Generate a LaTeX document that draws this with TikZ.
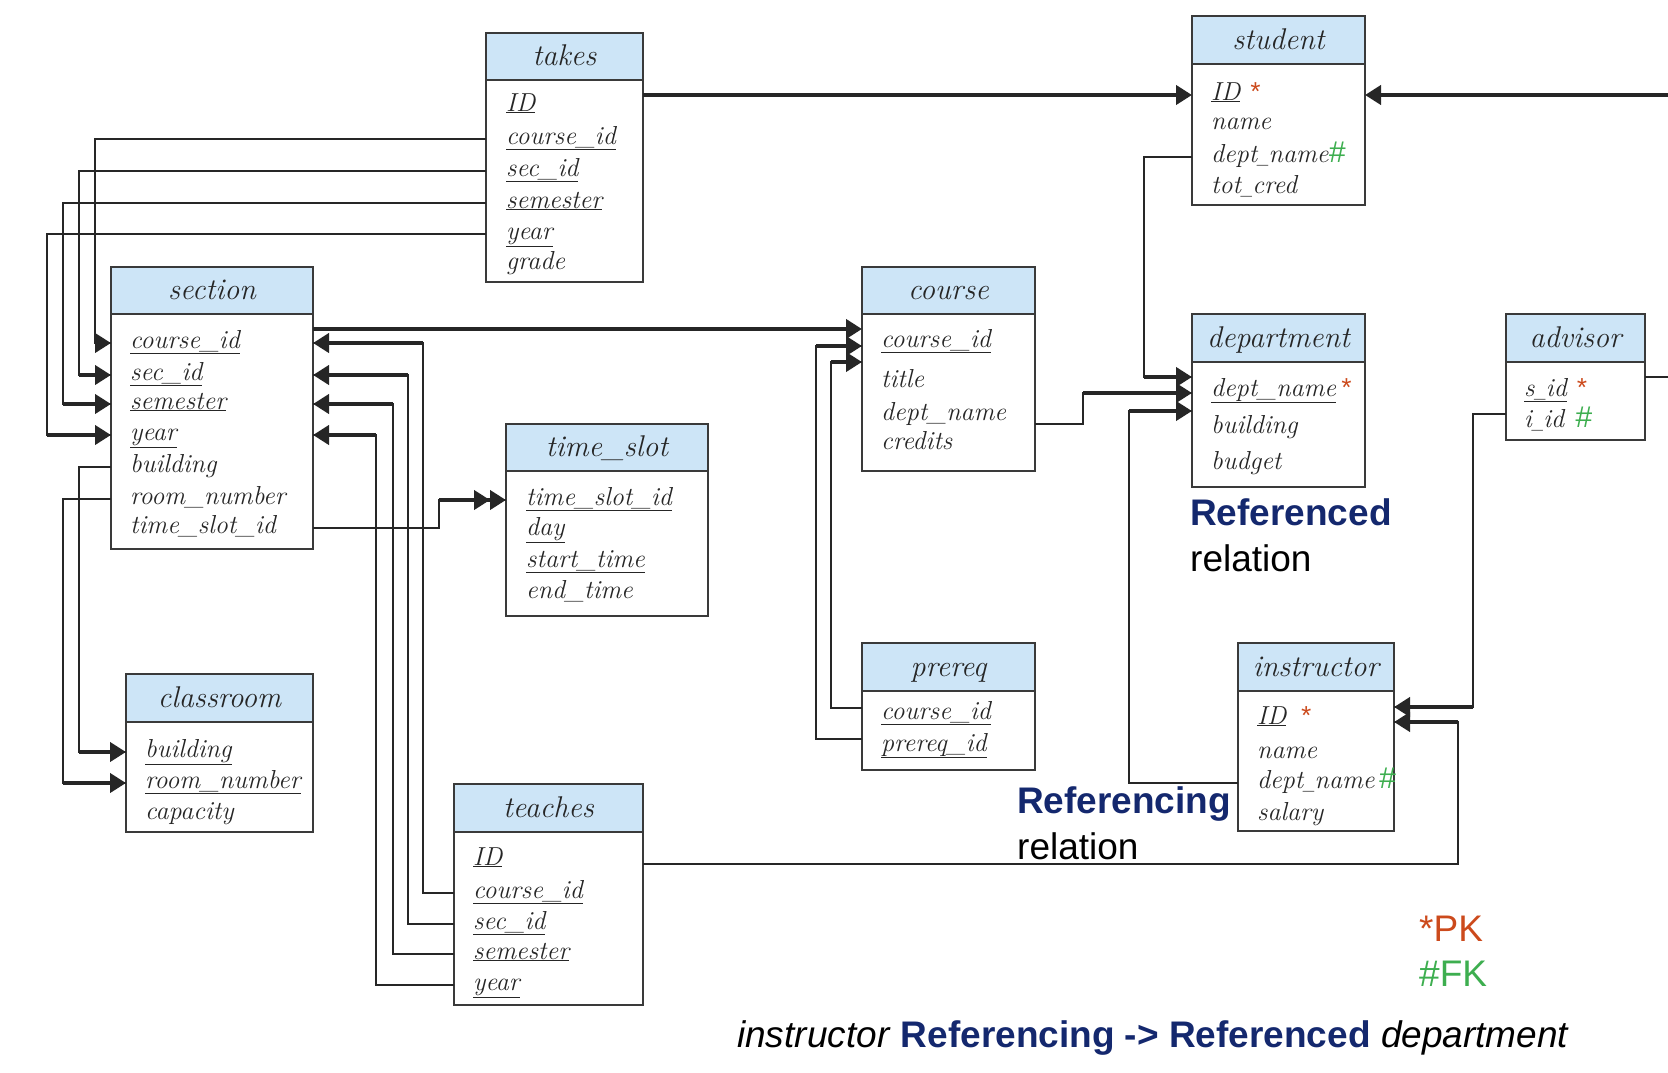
\documentclass[tikz,border=0pt]{standalone}
\usepackage{fontspec}
\newfontfamily\sansfont{Liberation Sans}
\usetikzlibrary{arrows.meta,calc}
\definecolor{headblue}{HTML}{CDE5F7}
\definecolor{navytext}{HTML}{14286E}
\definecolor{pkred}{HTML}{CC4A1C}
\definecolor{fkgreen}{HTML}{3DAE4F}
\definecolor{boxline}{HTML}{3A3A3A}
\newcommand{\pk}{{\sansfont\color{pkred}*}}
\newcommand{\fk}{{\sansfont\fontsize{30}{30}\selectfont\color{fkgreen}\#}}
\newcommand{\us}{\scalebox{0.6}[1]{\_}}

\tikzset{
  tbl/.style={draw=boxline, line width=2pt, fill=white, inner sep=0pt, outer sep=0pt, anchor=north west},
  hd/.style={draw=boxline, line width=2pt, fill=headblue, inner sep=0pt, outer sep=0pt, anchor=south west,
    text height=23pt, text depth=5pt, font=\fontsize{30}{30}\selectfont\itshape, text=black!85},
  row/.style={anchor=west, inner sep=0pt, text height=14pt, text depth=4pt,
    font=\fontsize{26}{30}\selectfont\itshape, text=black!85},
  link/.style={draw=black!85, line width=2pt},
  linkend/.style={draw=black!85, line width=4pt, -{Triangle[length=16pt,width=19pt]}},
  linkend2/.style={draw=black!85, line width=4pt,
    -{Triangle[length=16pt,width=19pt]Triangle[length=16pt,width=19pt]}},
  note/.style={anchor=base west, inner sep=0pt, font=\sansfont\fontsize{37}{40}\selectfont}
}

\begin{document}
\begin{tikzpicture}[x=1pt,y=-1pt]
			%%%%% START %%%%%
			\useasboundingbox (0,0) rectangle (1668,1073);
			
			% takes
			\node[tbl, minimum width=157, minimum height=202] (takes) at (486,80) {};
			\node[hd, minimum width=157, minimum height=47] (takes-h) at (takes.north west) {takes};
			\node[row] (tk1) at (506,106) {\underline{ID}};
			\node[row] (tk2) at (506,139) {\underline{course\_id}};
			\node[row] (tk3) at (506,171) {\underline{sec\_id}};
			\node[row] (tk4) at (506,203) {\underline{semester}};
			\node[row] (tk5) at (506,234) {\underline{year}};
			\node[row] (tk6) at (506,264) {grade};
			
			% student
			\node[tbl, minimum width=173, minimum height=141] (student) at (1192,64) {};
			\node[hd, minimum width=173, minimum height=48] (student-h) at (student.north west) {student};
			\node[row] (st1) at (1211,95) {\underline{ID} \pk};
			\node[row] (st2) at (1211,124) {name};
			\node[row] (st3) at (1211,157) {dept\us name\fk};
			\node[row] (st4) at (1211,188) {tot\us cred};
			
			% section
			\node[tbl, minimum width=202, minimum height=235] (section) at (111,314) {};
			\node[hd, minimum width=202, minimum height=47] (section-h) at (section.north west) {section};
			\node[row] (sc1) at (130,343) {\underline{course\_id}};
			\node[row] (sc2) at (130,375) {\underline{sec\_id}};
			\node[row] (sc3) at (130,404) {\underline{semester}};
			\node[row] (sc4) at (130,435) {\underline{year}};
			\node[row] (sc5) at (130,467) {building};
			\node[row] (sc6) at (130,499) {room\_number};
			\node[row] (sc7) at (130,528) {time\_slot\_id};
			
			% course
			\node[tbl, minimum width=173, minimum height=157] (course) at (862,314) {};
			\node[hd, minimum width=173, minimum height=47] (course-h) at (course.north west) {course};
			\node[row] (co1) at (881,342) {\underline{course\_id}};
			\node[row] (co2) at (881,382) {title};
			\node[row] (co3) at (881,415) {dept\_name};
			\node[row] (co4) at (881,444) {credits};
			
			% department
			\node[tbl, minimum width=173, minimum height=125] (department) at (1192,362) {};
			\node[hd, minimum width=173, minimum height=48] (department-h) at (department.north west) {department};
			\node[row] (dp1) at (1211,391) {\underline{dept\_name}\,\pk};
			\node[row] (dp2) at (1211,428) {building};
			\node[row] (dp3) at (1211,464) {budget};
			
			% advisor
			\node[tbl, minimum width=139, minimum height=78] (advisor) at (1506,362) {};
			\node[hd, minimum width=139, minimum height=48] (advisor-h) at (advisor.north west) {advisor};
			\node[row] (ad1) at (1524,391) {\underline{s\us id}\hspace{9pt}\pk};
			\node[row] (ad2) at (1524,422) {i\us id\hspace{11pt}\fk};
			
			% time_slot
			\node[tbl, minimum width=202, minimum height=145] (time_slot) at (506,471) {};
			\node[hd, minimum width=202, minimum height=47] (time_slot-h) at (time_slot.north west) {time\_slot};
			\node[row] (ts1) at (526,500) {\underline{time\_slot\_id}};
			\node[row] (ts2) at (526,530) {\underline{day}};
			\node[row] (ts3) at (526,562) {\underline{start\_time}};
			\node[row] (ts4) at (526,593) {end\_time};
			
			% classroom
			\node[tbl, minimum width=187, minimum height=110] (classroom) at (126,722) {};
			\node[hd, minimum width=187, minimum height=48] (classroom-h) at (classroom.north west) {classroom};
			\node[row] (cl1) at (145,752) {\underline{building}};
			\node[row] (cl2) at (145,783) {\underline{room\_number}};
			\node[row] (cl3) at (145,814) {capacity};
			
			% prereq
			\node[tbl, minimum width=173, minimum height=79] (prereq) at (862,691) {};
			\node[hd, minimum width=173, minimum height=48] (prereq-h) at (prereq.north west) {prereq};
			\node[row] (pr1) at (881,714) {\underline{course\_id}};
			\node[row] (pr2) at (881,746) {\underline{prereq\_id}};
			
			% instructor
			\node[tbl, minimum width=156, minimum height=140] (instructor) at (1238,691) {};
			\node[hd, minimum width=156, minimum height=48] (instructor-h) at (instructor.north west) {instructor};
			\node[row] (in1) at (1257,719) {\underline{ID}\hspace{14pt}\pk};
			\node[row] (in2) at (1257,753) {name};
			\node[row] (in3) at (1257,783) {dept\us name\,\fk};
			\node[row] (in4) at (1257,815) {salary};
			
			% teaches
			\node[tbl, minimum width=189, minimum height=173] (teaches) at (454,832) {};
			\node[hd, minimum width=189, minimum height=48] (teaches-h) at (teaches.north west) {teaches};
			\node[row] (te1) at (473,860) {\underline{ID}};
			\node[row] (te2) at (473,893) {\underline{course\_id}};
			\node[row] (te3) at (473,924) {\underline{sec\_id}};
			\node[row] (te4) at (473,954) {\underline{semester}};
			\node[row] (te5) at (473,985) {\underline{year}};
			
			% connector ends
			\coordinate (rim) at (1668,0);
			\coordinate (coA) at ($(course.west |- co1)+(0,-13)$);
			\coordinate (coB) at ($(course.west |- co1)+(0,4)$);
			\coordinate (coC) at ($(course.west |- co1)+(0,20)$);
			\coordinate (coO) at ($(course.east |- co3)+(0,9)$);
			\coordinate (dpA) at ($(department.west |- dp1)+(0,-14)$);
			\coordinate (dpB) at ($(department.west |- dp1)+(0,2)$);
			\coordinate (dpC) at ($(department.west |- dp1)+(0,20)$);
			\coordinate (inA) at ($(instructor.east |- in1)+(0,-12)$);
			\coordinate (inB) at ($(instructor.east |- in1)+(0,3)$);
			\coordinate (adA) at ($(advisor.east |- ad1)+(0,-14)$);
			\coordinate (adB) at ($(advisor.west |- ad2)+(0,-8)$);
			\coordinate (prA) at ($(prereq.west |- pr1)+(0,-6)$);
			\coordinate (prB) at ($(prereq.west |- pr2)+(0,-7)$);
			\coordinate (teA) at ($(teaches.east |- te1)+(0,4)$);
			
			% takes -> student, section
			\draw[linkend] (takes.east |- st1) -- (student.west |- st1);
			\draw[link] (takes.west |- tk2) -- ++(-391,0) coordinate (b1) |- (section.west |- sc1);
			\draw[linkend] (b1 |- sc1) -- (section.west |- sc1);
			\draw[link] (takes.west |- tk3) -- ++(-407,0) coordinate (b2) |- (section.west |- sc2);
			\draw[linkend] (b2 |- sc2) -- (section.west |- sc2);
			\draw[link] (takes.west |- tk4) -- ++(-423,0) coordinate (b3) |- (section.west |- sc3);
			\draw[linkend] (b3 |- sc3) -- (section.west |- sc3);
			\draw[link] (takes.west |- tk5) -- ++(-439,0) coordinate (b4) |- (section.west |- sc4);
			\draw[linkend] (b4 |- sc4) -- (section.west |- sc4);
			
			% section -> course, classroom, time_slot
			\draw[linkend] (section.east |- coA) -- (coA);
			\draw[link] (section.west |- sc5) -- ++(-32,0) coordinate (b5) |- (classroom.west |- cl1);
			\draw[linkend] (b5 |- cl1) -- (classroom.west |- cl1);
			\draw[link] (section.west |- sc6) -- ++(-48,0) coordinate (b6) |- (classroom.west |- cl2);
			\draw[linkend] (b6 |- cl2) -- (classroom.west |- cl2);
			\draw[link] (section.east |- sc7) -- ++(126,0) coordinate (b7) |- (time_slot.west |- ts1);
			\draw[linkend2] (b7 |- ts1) -- (time_slot.west |- ts1);
			
			% teaches -> section, instructor
			\draw[link] (teaches.west |- te2) -- ++(-31,0) coordinate (b8) |- (section.east |- sc1);
			\draw[linkend] (b8 |- sc1) -- (section.east |- sc1);
			\draw[link] (teaches.west |- te3) -- ++(-46,0) coordinate (b9) |- (section.east |- sc2);
			\draw[linkend] (b9 |- sc2) -- (section.east |- sc2);
			\draw[link] (teaches.west |- te4) -- ++(-61,0) coordinate (b10) |- (section.east |- sc3);
			\draw[linkend] (b10 |- sc3) -- (section.east |- sc3);
			\draw[link] (teaches.west |- te5) -- ++(-78,0) coordinate (b11) |- (section.east |- sc4);
			\draw[linkend] (b11 |- sc4) -- (section.east |- sc4);
			\draw[link] (teA) -- ++(815,0) coordinate (b12) |- (inB);
			\draw[linkend] (b12 |- inB) -- (inB);
			
			% prereq -> course
			\draw[link] (prA) -- ++(-31,0) coordinate (b13) |- (coC);
			\draw[linkend] (b13 |- coC) -- (coC);
			\draw[link] (prB) -- ++(-46,0) coordinate (b14) |- (coB);
			\draw[linkend] (b14 |- coB) -- (coB);
			
			% -> department
			\draw[link] (student.west |- st3) -- ++(-48,0) coordinate (b15) |- (dpA);
			\draw[linkend] (b15 |- dpA) -- (dpA);
			\draw[link] (coO) -- ++(48,0) coordinate (b16) |- (dpB);
			\draw[linkend] (b16 |- dpB) -- (dpB);
			\draw[link] (instructor.west |- in3) -- ++(-109,0) coordinate (b17) |- (dpC);
			\draw[linkend] (b17 |- dpC) -- (dpC);
			
			% advisor -> student, instructor
			\draw[link] (adA) -- (rim |- adA);
			\draw[linkend] (rim |- st1) -- (student.east |- st1);
			\draw[link] (adB) -- ++(-33,0) coordinate (b18) |- (inA);
			\draw[linkend] (b18 |- inA) -- (inA);
			
			% notes
			\node[note, text=navytext, font=\sansfont\bfseries\fontsize{37}{40}\selectfont] (refd) at (1190,525) {Referenced};
			\node[note] (refd-r) at (1190,571) {relation};
			\node[note, text=navytext, font=\sansfont\bfseries\fontsize{37}{40}\selectfont] (refg) at (1017,813) {Referencing};
			\node[note] (refg-r) at (1017,859) {relation};
			\node[note, text=pkred] (pk) at (1419,941) {*PK};
			\node[note, text=fkgreen] (fk) at (1419,986) {\#FK};
			\node[note] (legend) at (737,1047) {\textit{instructor} {\bfseries\color{navytext}Referencing -> Referenced} \textit{department}};
			
			%%%%% END %%%%%
\end{tikzpicture}
\end{document}
